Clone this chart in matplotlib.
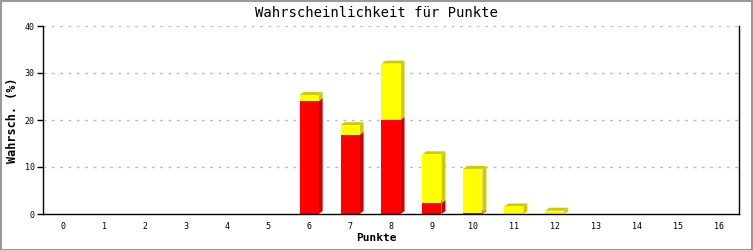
import matplotlib
matplotlib.use("Agg")
import matplotlib.pyplot as plt
from matplotlib.patches import Polygon, Rectangle

categories = list(range(17))
red_vals = [0, 0, 0, 0, 0, 0, 24.0, 16.8, 20.0, 2.3, 0.2, 0, 0, 0, 0, 0, 0]
yellow_vals = [0, 0, 0, 0, 0, 0, 1.3, 2.1, 12.0, 10.4, 9.4, 1.6, 0.7, 0, 0, 0, 0]
y_ticks = [0, 10, 20, 30, 40]

plt.rcParams['font.family'] = ['DejaVu Sans Mono']

W, H = 753, 250
fig = plt.figure(figsize=(W / 100, H / 100), dpi=100)
fig.patch.set_facecolor('white')
ax = fig.add_axes([43 / W, (H - 214) / H, (739 - 43) / W, (214 - 26) / H])
ax.set_xlim(-0.5, 16.5)
ax.set_ylim(0, 40)

bw = 0.465
dx = 4 / (696 / 17)
dy = 3 / (188 / 40)

def bar3d(x, y0, h, face, side, top=True):
    if h <= 0:
        return
    l = x - bw / 2
    r = x + bw / 2
    ax.add_patch(Polygon([(r, y0), (r + dx, y0 + dy), (r + dx, y0 + h + dy), (r, y0 + h)],
                         closed=True, facecolor=side, edgecolor='none', zorder=3))
    if top:
        ax.add_patch(Polygon([(l, y0 + h), (l + dx, y0 + h + dy), (r + dx, y0 + h + dy), (r, y0 + h)],
                             closed=True, facecolor=side, edgecolor='none', zorder=3))
    ax.add_patch(Rectangle((l, y0), bw, h, facecolor=face, edgecolor='none', zorder=4))

for x, rv, yv in zip(categories, red_vals, yellow_vals):
    bar3d(x, 0, rv, '#FF0000', '#CC0000')
    bar3d(x, rv, yv, '#FFFF00', '#CCCC00')

for t in y_ticks[1:]:
    ax.axhline(t, color='#BBBBBB', linestyle=(0, (2, 4)), linewidth=1, zorder=1)

ax.set_yticks(y_ticks)
ax.set_xticks(categories)
ax.set_xticklabels([str(c) for c in categories], fontsize=6)
ax.set_yticklabels([str(t) for t in y_ticks], fontsize=6)
ax.tick_params(axis='x', length=0, pad=6)
ax.tick_params(axis='y', length=4, width=1, direction='out', pad=2)
for s in ['left', 'bottom', 'right']:
    ax.spines[s].set_color('black')
    ax.spines[s].set_linewidth(1)
ax.spines['top'].set_visible(False)
ax.spines['bottom'].set_zorder(6)

fig.text(0.5, 1 - 238 / H, 'Punkte', ha='center', va='center', fontsize=8, fontweight='bold')
fig.text(13 / W, 1 - 120 / H, 'Wahrsch. (%)', ha='center', va='center', rotation=90,
         fontsize=8.5, fontweight='bold')
fig.text(0.5, 1 - 13 / H, 'Wahrscheinlichkeit für Punkte', ha='center', va='center', fontsize=10)

fig.add_artist(Rectangle((0.5 / W, 0.5 / H), 1 - 1.5 / W, 1 - 1.5 / H, transform=fig.transFigure,
                         facecolor='none', edgecolor='#999999', linewidth=1.5))

fig.savefig('out.png', dpi=100)
